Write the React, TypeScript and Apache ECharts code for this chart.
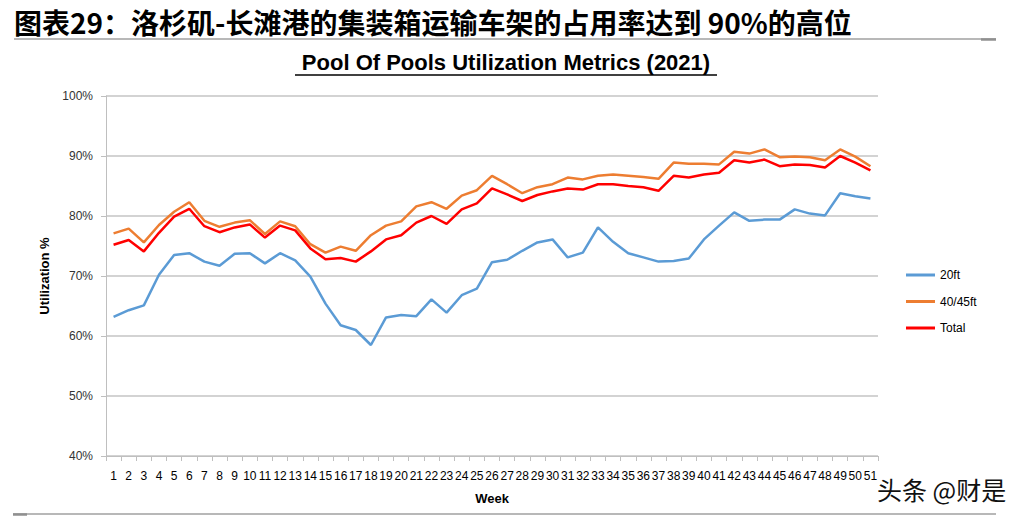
import React, { useEffect, useRef } from "react";
import * as echarts from "echarts";

const weeks: string[] = Array.from({ length: 51 }, (_, i) => String(i + 1));

const ft20: number[] = [
  63.2, 64.3, 65.1, 70.2, 73.5, 73.8, 72.4, 71.7, 73.7, 73.8, 72.1, 73.8, 72.6,
  69.9, 65.4, 61.8, 61.0, 58.5, 63.1, 63.5, 63.3, 66.1, 63.9, 66.8, 67.9, 72.3,
  72.7, 74.2, 75.6, 76.1, 73.1, 73.9, 78.1, 75.7, 73.8, 73.1, 72.4, 72.5, 72.9,
  76.1, 78.4, 80.6, 79.2, 79.4, 79.4, 81.1, 80.4, 80.1, 83.8, 83.3, 82.9,
];

const ft4045: number[] = [
  77.1, 77.9, 75.6, 78.5, 80.7, 82.3, 79.2, 78.2, 78.9, 79.3, 77.0, 79.1, 78.3,
  75.3, 73.9, 74.9, 74.2, 76.8, 78.4, 79.1, 81.6, 82.3, 81.2, 83.4, 84.3, 86.7,
  85.3, 83.8, 84.8, 85.3, 86.4, 86.1, 86.7, 86.9, 86.7, 86.5, 86.2, 88.9, 88.7,
  88.7, 88.6, 90.7, 90.4, 91.1, 89.8, 89.9, 89.8, 89.3, 91.1, 89.9, 88.3,
];

const total: number[] = [
  75.2, 76.0, 74.1, 77.2, 79.9, 81.2, 78.3, 77.3, 78.1, 78.6, 76.4, 78.4, 77.6,
  74.6, 72.8, 73.0, 72.4, 74.1, 76.1, 76.8, 78.9, 80.0, 78.7, 81.1, 82.1, 84.6,
  83.6, 82.5, 83.5, 84.1, 84.6, 84.4, 85.3, 85.3, 85.0, 84.8, 84.2, 86.7, 86.4,
  86.9, 87.2, 89.3, 88.9, 89.4, 88.3, 88.6, 88.5, 88.1, 90.0, 88.9, 87.6,
];

const headerTitle = "图表29：洛杉矶-长滩港的集装箱运输车架的占用率达到 90%的高位";
const chartTitle = "Pool Of Pools Utilization Metrics (2021)";
const watermark = "头条 @财是";

export default function App() {
  const ref = useRef<HTMLDivElement>(null);
  useEffect(() => {
    if (!ref.current) return;
    const chart = echarts.init(ref.current, null, { renderer: "svg" });
    const latin = "'Liberation Sans', Arial, sans-serif";
    chart.setOption({
      animation: false,
      backgroundColor: "#ffffff",
      grid: { left: 106, right: 151, top: 96, bottom: 61, containLabel: false },
      legend: {
        orient: "vertical",
        left: 901,
        top: 264,
        icon: "rect",
        itemWidth: 29,
        itemHeight: 3,
        itemGap: 14.5,
        textStyle: { fontSize: 12, lineHeight: 12, color: "#000", fontFamily: latin },
        data: ["20ft", "40/45ft", "Total"],
      },
      graphic: [
        {
          type: "text",
          x: 14,
          y: 22,
          style: {
            text: headerTitle,
            font: "bold 28px 'Noto Sans CJK SC', sans-serif",
            fill: "#000",
            verticalAlign: "middle",
          },
        },
        {
          type: "line",
          shape: { x1: 14, y1: 39, x2: 996, y2: 39 },
          style: { stroke: "#a0a0a0", lineWidth: 1.5 },
        },
        {
          type: "line",
          shape: { x1: 981, y1: 39.5, x2: 996, y2: 39.5 },
          style: { stroke: "#909090", lineWidth: 2.5 },
        },
        {
          type: "text",
          x: 506,
          y: 62,
          style: {
            text: chartTitle,
            font: "bold 22px " + latin,
            fill: "#000",
            align: "center",
            verticalAlign: "middle",
          },
        },
        {
          type: "line",
          shape: { x1: 295, y1: 75, x2: 717, y2: 75 },
          style: { stroke: "#000", lineWidth: 1.5 },
        },
        {
          type: "text",
          x: 877,
          y: 489,
          style: {
            text: watermark,
            font: "25px 'Noto Sans CJK SC', sans-serif",
            fill: "#111",
            verticalAlign: "middle",
            stroke: "#fff",
            lineWidth: 1,
          },
        },
        {
          type: "line",
          shape: { x1: 13, y1: 514, x2: 996, y2: 514 },
          style: { stroke: "#a0a0a0", lineWidth: 1.5 },
        },
        {
          type: "line",
          shape: { x1: 13, y1: 514.5, x2: 27, y2: 514.5 },
          style: { stroke: "#909090", lineWidth: 2.5 },
        },
      ],
      xAxis: {
        type: "category",
        data: weeks,
        boundaryGap: true,
        name: "Week",
        nameLocation: "middle",
        nameGap: 36,
        nameTextStyle: { fontSize: 13, fontWeight: "bold", color: "#000", fontFamily: latin },
        axisLine: { lineStyle: { color: "#bfbfbf", width: 1 } },
        axisTick: { show: true, length: 5, alignWithLabel: false, lineStyle: { color: "#bfbfbf" } },
        axisLabel: { interval: 0, fontSize: 12, color: "#000", margin: 14, fontFamily: latin },
        splitLine: { show: false },
      },
      yAxis: {
        type: "value",
        min: 40,
        max: 100,
        interval: 10,
        name: "Utilization %",
        nameLocation: "middle",
        nameRotate: 90,
        nameGap: 52,
        nameTextStyle: { fontSize: 13, fontWeight: "bold", color: "#000", fontFamily: latin },
        axisLine: { show: true, lineStyle: { color: "#bfbfbf", width: 1 } },
        axisTick: { show: true, length: 5, lineStyle: { color: "#bfbfbf" } },
        axisLabel: { formatter: "{value}%", fontSize: 12, color: "#333", margin: 13, fontFamily: latin },
        splitLine: { show: true, lineStyle: { color: "#c4c4c4", width: 1.5 } },
      },
      series: [
        {
          name: "20ft",
          type: "line",
          data: ft20,
          symbol: "none",
          lineStyle: { color: "#5B9BD5", width: 2.5 },
          itemStyle: { color: "#5B9BD5" },
        },
        {
          name: "40/45ft",
          type: "line",
          data: ft4045,
          symbol: "none",
          lineStyle: { color: "#ED7D31", width: 2.5 },
          itemStyle: { color: "#ED7D31" },
        },
        {
          name: "Total",
          type: "line",
          data: total,
          symbol: "none",
          lineStyle: { color: "#FF0000", width: 2.5 },
          itemStyle: { color: "#FF0000" },
        },
      ],
    });
    return () => chart.dispose();
  }, []);
  return (
    <div
      ref={ref}
      style={{ position: "fixed", left: 0, top: 0, width: 1029, height: 517 }}
    />
  );
}
